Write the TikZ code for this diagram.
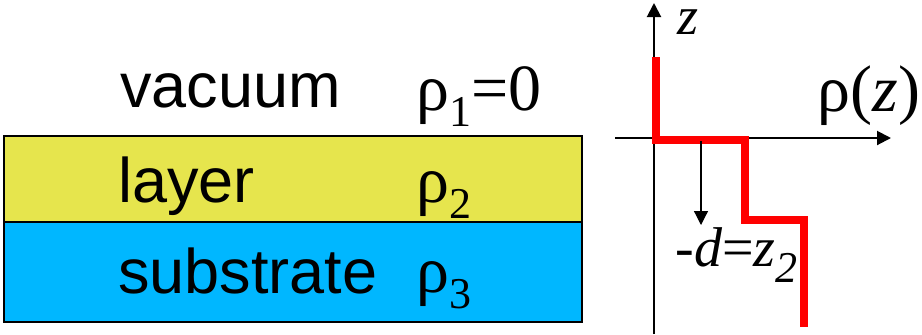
\documentclass[tikz,border=0pt]{standalone}
\usepackage{fontspec}
\setmainfont{Liberation Sans}
\newfontfamily\serif{Liberation Serif}
\usetikzlibrary{arrows.meta}
\definecolor{LayerYellow}{RGB}{230,229,77}
\definecolor{SubstrateBlue}{RGB}{0,183,255}
\definecolor{ProfileRed}{RGB}{255,0,0}
\newcommand{\lowsub}[1]{\raisebox{-8pt}{\fontsize{22}{22}\selectfont #1}}

\begin{document}
\begin{tikzpicture}[x=0.5pt,y=-0.5pt,>={Triangle[length=7pt,width=7pt]}]
  \tikzset{word/.style={font=\fontsize{31.5}{36}\selectfont,anchor=base west,inner sep=0pt},
    sym/.style={font=\serif\fontsize{33}{36}\selectfont,anchor=base west,inner sep=0pt}}
  \useasboundingbox (0,0) rectangle (922,334);
  % layers
  \fill[LayerYellow] (4,136) rectangle (582,222);
  \fill[SubstrateBlue] (4,222) rectangle (582,322);
  \draw[line width=1pt] (4,136) rectangle (582,322);
  \draw[line width=1pt] (4,222) -- (582,222);
  \node[word] (vac) at (120,107) {vacuum};
  \node[word] (lay) at (118,202) {layer};
  \node[word] (sub) at (118,293) {substrate};
  \node[sym] (rho1) at (416,110) {ρ\lowsub{1}=0};
  \node[sym] (rho2) at (416,202) {ρ\lowsub{2}};
  \node[sym] (rho3) at (416,292) {ρ\lowsub{3}};
  % profile
  \coordinate (O) at (654,138);
  \coordinate (Zb) at (654,334);
  \coordinate (Zt) at (654,3);
  \coordinate (Xl) at (615,138);
  \coordinate (Xr) at (891,138);
  \draw[->,line width=1pt] (Zb)--(Zt);
  \draw[->,line width=1pt] (Xl)--(Xr);
  \node[sym,font=\serif\itshape\fontsize{27}{30}\selectfont,text height=0.5em] (zlab) at (677,34) {z};
  \node[sym] (rholab) at (817,111) {ρ(\textit{z})};
  \draw[ProfileRed,line width=3.6pt] (656,57)--(656,140)--(745,140)--(745,220)--(804,220)--(804,327);
  \coordinate (dtop) at (701,141);
  \coordinate (dbot) at (701,225);
  \draw[->,line width=0.6pt] (dtop)--(dbot);
  \node[sym,font=\serif\fontsize{28}{32}\selectfont] (dlab) at (675,266) {-\textit{d}=\textit{z}\lowsub{\textit{2}}};
\end{tikzpicture}
\end{document}
